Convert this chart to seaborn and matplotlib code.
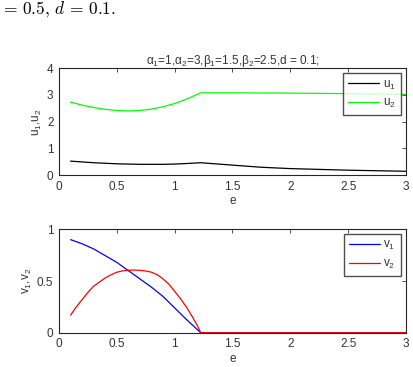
import numpy as np
import pandas as pd
import matplotlib
matplotlib.use("Agg")
import matplotlib.pyplot as plt
import seaborn as sns

# ---- data ----
e_u = [0.1, 0.2, 0.3, 0.4, 0.5, 0.6, 0.7, 0.8, 0.9, 1.0, 1.1, 1.225,
       1.5, 1.75, 2.0, 2.25, 2.5, 2.75, 3.0]
u1 = [0.52, 0.49, 0.46, 0.44, 0.42, 0.41, 0.40, 0.40, 0.40, 0.41, 0.43, 0.46,
      0.37, 0.29, 0.24, 0.21, 0.18, 0.16, 0.14]
u2 = [2.73, 2.62, 2.53, 2.46, 2.42, 2.40, 2.42, 2.47, 2.56, 2.68, 2.84, 3.08,
      3.08, 3.075, 3.07, 3.06, 3.05, 3.035, 3.02]

e_v1 = [0.1, 0.2, 0.3, 0.4, 0.5, 0.6, 0.7, 0.8, 0.9, 1.0, 1.1, 1.225,
        1.5, 2.0, 2.5, 3.0]
v1 = [0.90, 0.86, 0.81, 0.745, 0.68, 0.60, 0.52, 0.44, 0.35, 0.24, 0.13, 0.0,
      0.0, 0.0, 0.0, 0.0]

e_v2 = [0.1, 0.15, 0.2, 0.25, 0.3, 0.35, 0.4, 0.45, 0.5, 0.55, 0.6, 0.65,
        0.7, 0.75, 0.8, 0.85, 0.9, 0.95, 1.0, 1.05, 1.1, 1.15, 1.2, 1.225,
        1.5, 2.0, 2.5, 3.0]
v2 = [0.17, 0.25, 0.32, 0.39, 0.45, 0.49, 0.53, 0.56, 0.585, 0.598, 0.604, 0.606,
      0.603, 0.597, 0.585, 0.56, 0.52, 0.47, 0.40, 0.33, 0.25, 0.16, 0.06, 0.0,
      0.0, 0.0, 0.0, 0.0]

xticks = [0, 0.5, 1, 1.5, 2, 2.5, 3]
xticklabels = ["0", "0.5", "1", "1.5", "2", "2.5", "3"]
yticks_top = [0, 1, 2, 3, 4]
yticklabels_top = ["0", "1", "2", "3", "4"]
yticks_bot = [0, 0.5, 1]
yticklabels_bot = ["0", "0.5", "1"]

title_text = r"$\alpha_1$=1,$\alpha_2$=3,$\beta_1$=1.5,$\beta_2$=2.5,d = 0.1;"

sns.set_style("white")
plt.rcParams["font.family"] = ["Liberation Sans", "DejaVu Sans"]
plt.rcParams["mathtext.fontset"] = "custom"
plt.rcParams["mathtext.rm"] = "Liberation Sans"
plt.rcParams["mathtext.it"] = "Liberation Sans:italic"
plt.rcParams["mathtext.default"] = "regular"

W, H = 414, 367
fig = plt.figure(figsize=(W / 100, H / 100), dpi=100)
fig.patch.set_facecolor("white")

ax1 = fig.add_axes([59 / W, 1 - 175 / H, 347 / W, 106.7 / H])
ax2 = fig.add_axes([59 / W, 1 - 332.7 / H, 347 / W, 103.4 / H])

du = pd.DataFrame({"e": e_u * 2, "val": u1 + u2,
                   "series": ["u$_1$"] * len(u1) + ["u$_2$"] * len(u2)})
dv = pd.DataFrame({"e": e_v1 + e_v2, "val": v1 + v2,
                   "series": ["v$_1$"] * len(v1) + ["v$_2$"] * len(v2)})

sns.lineplot(data=du, x="e", y="val", hue="series",
             palette=["#000000", "#00ff00"], linewidth=0.9, ax=ax1)
sns.lineplot(data=dv, x="e", y="val", hue="series",
             palette=["#0000ff", "#ff0000"], linewidth=0.9, ax=ax2)

tc = "#333333"
for ax, yt, ytl, ylab in [(ax1, yticks_top, yticklabels_top, "u$_1$,u$_2$"),
                          (ax2, yticks_bot, yticklabels_bot, "v$_1$,v$_2$")]:
    ax.set_xlim(0, 3)
    ax.set_ylim(yt[0], yt[-1])
    ax.set_xticks(xticks)
    ax.set_xticklabels(xticklabels)
    ax.set_yticks(yt)
    ax.set_yticklabels(ytl)
    ax.tick_params(direction="in", length=3, width=0.6, top=True, right=True,
                   labelsize=8.5, colors=tc, pad=4)
    ax.tick_params(labelcolor=tc)
    for s in ax.spines.values():
        s.set_color("#262626")
        s.set_linewidth(0.8)
    ax.set_xlabel("e", fontsize=8.5, color=tc, labelpad=2)
    ax.set_ylabel(ylab, fontsize=8.5, color=tc, labelpad=2)
    leg = ax.legend(loc="upper right", bbox_to_anchor=(0.985, 0.955),
                    fontsize=8.5, frameon=True, fancybox=False,
                    handlelength=2.6, handletextpad=0.3, borderpad=0.45,
                    labelspacing=0.45, borderaxespad=0)
    leg.get_frame().set_edgecolor("#222222")
    leg.get_frame().set_linewidth(1.0)
    for t in leg.get_texts():
        t.set_color(tc)

ax1.set_title(title_text, fontsize=8.5, color=tc, pad=3)

fig.text(0.0, 1 - 10 / H,
         r"$\mathrm{=\,0.5,}\,\mathit{d}\,\mathrm{=\,0.1.}$",
         fontsize=12.5, math_fontfamily="cm", va="center", ha="left",
         color="black")

fig.savefig("out.png", dpi=100)
